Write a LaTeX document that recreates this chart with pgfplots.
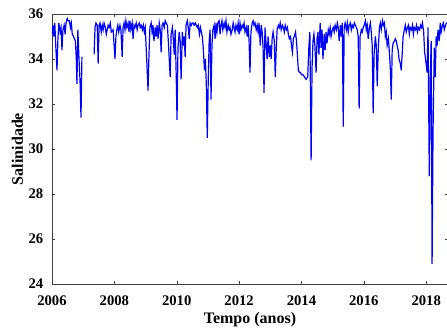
\documentclass[border=0pt]{standalone}
\usepackage{fontspec}
\setmainfont{Liberation Serif}
\usepackage{pgfplots}
\pgfplotsset{compat=1.18}
\begin{document}
\begin{tikzpicture}
\begin{axis}[name=ax,
  scale only axis, width=297pt, height=202.5pt,
  xmin=2006, xmax=2018.7, ymin=24, ymax=36,
  xtick={2006,2008,...,2018}, ytick={24,26,...,36},
  tick align=inside, major tick length=2.5pt,
  /pgf/number format/assume math mode=true,
  /pgf/number format/1000 sep={},
  tick label style={font=\bfseries\fontsize{11}{13}\selectfont},
  xticklabel style={yshift=-5pt},
  yticklabel style={xshift=-3pt},
  axis line style={black!75}, tick style={black!75},
  xlabel={Tempo (anos)}, ylabel={Salinidade},
  every axis x label/.style={at={(axis description cs:0.5,-0.133)}, anchor=center, font=\bfseries\fontsize{12}{14}\selectfont},
  every axis y label/.style={at={(axis description cs:-0.0875,0.5)}, anchor=center, rotate=90, font=\bfseries\fontsize{12}{14}\selectfont},
]
\addplot[blue, line width=0.9pt] coordinates {
(2006.00,35.1) (2006.03,35.5) (2006.06,35.0) (2006.09,35.6) (2006.12,34.6) (2006.16,33.5)
(2006.19,34.9) (2006.22,35.6) (2006.26,35.2) (2006.29,35.4) (2006.32,34.4) (2006.35,35.3)
(2006.39,35.5) (2006.42,35.1) (2006.45,35.6) (2006.49,35.8) (2006.52,35.7) (2006.56,35.7)
(2006.59,35.4) (2006.62,35.6) (2006.65,35.1) (2006.69,35.0) (2006.72,34.9) (2006.75,34.8)
(2006.78,34.0) (2006.80,32.9) (2006.83,35.3) (2006.86,34.2) (2006.90,33.0) (2006.93,31.4)
(2006.96,34.1)
};
\addplot[blue, line width=0.9pt] coordinates {
(2007.35,34.2) (2007.38,35.4) (2007.41,35.6) (2007.45,35.5) (2007.48,33.8) (2007.51,35.5)
(2007.54,35.6) (2007.58,35.2) (2007.61,35.5) (2007.64,35.3) (2007.67,35.6) (2007.71,35.4)
(2007.74,35.1) (2007.77,35.3) (2007.80,35.5) (2007.83,35.4) (2007.87,35.6) (2007.90,35.2)
(2007.96,35.3) (2008.02,34.0) (2008.05,35.0) (2008.08,35.3) (2008.11,35.5) (2008.14,35.2)
(2008.18,35.5) (2008.21,35.3) (2008.25,34.1) (2008.28,35.4) (2008.31,35.6) (2008.34,35.3)
(2008.37,35.7) (2008.40,35.4) (2008.44,35.6) (2008.47,35.2) (2008.50,35.7) (2008.53,35.3)
(2008.57,35.6) (2008.60,34.9) (2008.63,35.5) (2008.66,35.4) (2008.70,35.6) (2008.73,35.3)
(2008.76,35.5) (2008.80,35.6) (2008.83,35.4) (2008.86,35.5) (2008.90,35.3) (2008.93,35.5)
(2008.96,35.2) (2008.99,35.4) (2009.02,34.5) (2009.05,33.6) (2009.08,32.6) (2009.11,34.2)
(2009.14,35.4) (2009.18,35.6) (2009.21,35.2) (2009.24,35.5) (2009.27,34.8) (2009.31,35.4)
(2009.34,35.0) (2009.37,35.5) (2009.40,34.9) (2009.44,35.6) (2009.47,35.3) (2009.50,34.3)
(2009.53,35.5) (2009.56,35.6) (2009.60,35.4) (2009.63,35.7) (2009.66,35.6) (2009.70,35.5)
(2009.73,34.8) (2009.76,34.0) (2009.79,33.2) (2009.82,35.1) (2009.86,35.4) (2009.89,34.9)
(2009.92,34.2) (2009.95,35.3) (2009.98,33.5) (2010.01,31.3) (2010.04,34.5) (2010.08,35.2)
(2010.11,34.8) (2010.14,33.1) (2010.18,35.2) (2010.21,34.6) (2010.24,35.0) (2010.27,34.1)
(2010.30,35.5) (2010.34,35.7) (2010.37,35.4) (2010.40,34.9) (2010.43,35.6) (2010.47,35.5)
(2010.50,35.6) (2010.53,35.6) (2010.56,35.5) (2010.60,35.6) (2010.63,35.5) (2010.66,35.4)
(2010.69,35.5) (2010.73,35.1) (2010.76,35.4) (2010.79,35.2) (2010.82,35.0) (2010.85,34.5)
(2010.89,33.5) (2010.92,34.0) (2010.95,32.8) (2010.98,30.5) (2011.01,33.0) (2011.04,34.8)
(2011.07,35.3) (2011.10,32.2) (2011.13,34.6) (2011.16,35.3) (2011.20,35.5) (2011.23,34.9)
(2011.26,35.6) (2011.29,35.2) (2011.32,35.6) (2011.36,35.7) (2011.39,35.1) (2011.42,35.5)
(2011.45,35.7) (2011.48,35.3) (2011.52,35.6) (2011.55,35.4) (2011.58,35.7) (2011.61,35.2)
(2011.65,35.5) (2011.68,35.3) (2011.71,35.4) (2011.74,35.1) (2011.78,35.3) (2011.81,35.6)
(2011.84,35.4) (2011.87,35.2) (2011.90,35.5) (2011.94,35.3) (2011.97,35.6) (2012.00,35.1)
(2012.03,35.6) (2012.06,35.3) (2012.10,35.5) (2012.13,35.4) (2012.16,35.6) (2012.19,35.2)
(2012.23,35.4) (2012.26,35.0) (2012.29,35.5) (2012.32,34.8) (2012.35,33.4) (2012.38,35.2)
(2012.42,35.6) (2012.45,35.7) (2012.48,35.5) (2012.51,35.6) (2012.55,35.3) (2012.58,35.5)
(2012.61,35.2) (2012.64,35.6) (2012.68,34.6) (2012.71,35.5) (2012.74,35.2) (2012.77,34.5)
(2012.80,32.5) (2012.83,35.4) (2012.87,34.6) (2012.90,34.0) (2012.93,35.0) (2012.97,34.1)
(2013.00,34.6) (2013.03,34.0) (2013.06,34.9) (2013.09,35.2) (2013.13,34.8) (2013.16,33.2)
(2013.19,34.4) (2013.22,35.3) (2013.26,35.5) (2013.29,35.4) (2013.32,35.6) (2013.35,35.3)
(2013.39,35.5) (2013.42,35.4) (2013.45,35.2) (2013.48,35.5) (2013.52,35.3) (2013.55,35.4)
(2013.58,35.1) (2013.61,34.9) (2013.65,35.0) (2013.68,34.6) (2013.71,34.3) (2013.74,34.9)
(2013.77,35.0) (2013.81,35.2) (2013.84,34.8) (2013.87,34.2) (2013.90,33.5) (2013.94,33.4)
(2013.97,33.4) (2014.00,33.3) (2014.05,33.3) (2014.10,33.2) (2014.15,33.1) (2014.20,33.2)
(2014.24,34.6) (2014.27,35.2) (2014.31,29.5) (2014.34,33.6) (2014.37,34.8) (2014.40,35.1)
(2014.43,34.6) (2014.47,33.4) (2014.50,34.9) (2014.53,35.2) (2014.56,34.2) (2014.60,35.6)
(2014.63,34.5) (2014.66,35.3) (2014.69,34.0) (2014.73,35.1) (2014.76,34.4) (2014.79,35.2)
(2014.82,34.7) (2014.86,35.3) (2014.89,35.1) (2014.92,35.4) (2014.95,35.0) (2014.99,35.3)
(2015.02,35.4) (2015.05,35.2) (2015.08,35.5) (2015.12,35.3) (2015.15,35.6) (2015.18,35.4)
(2015.21,34.8) (2015.25,35.5) (2015.28,35.0) (2015.31,35.6) (2015.34,31.0) (2015.37,35.4)
(2015.40,35.6) (2015.44,35.3) (2015.47,35.6) (2015.50,35.2) (2015.53,35.5) (2015.57,35.6)
(2015.60,35.3) (2015.63,35.5) (2015.66,35.4) (2015.70,35.6) (2015.73,35.5) (2015.76,35.4)
(2015.79,35.3) (2015.82,35.0) (2015.85,31.8) (2015.88,35.0) (2015.92,35.3) (2015.95,35.2)
(2015.98,35.4) (2016.01,35.5) (2016.05,35.7) (2016.08,35.3) (2016.11,35.5) (2016.14,34.9)
(2016.18,35.4) (2016.21,35.6) (2016.24,35.2) (2016.27,34.6) (2016.30,31.6) (2016.33,34.2)
(2016.37,35.0) (2016.40,34.6) (2016.43,32.8) (2016.46,34.3) (2016.50,35.4) (2016.53,35.6)
(2016.56,35.3) (2016.60,35.7) (2016.63,35.5) (2016.66,35.6) (2016.69,35.0) (2016.72,35.2)
(2016.75,34.6) (2016.79,34.9) (2016.82,34.3) (2016.85,33.6) (2016.88,32.2) (2016.91,34.4)
(2016.94,34.7) (2016.98,34.8) (2017.01,34.9) (2017.04,34.8) (2017.07,34.6) (2017.10,34.4)
(2017.13,34.0) (2017.17,33.8) (2017.20,33.5) (2017.23,34.2) (2017.26,35.0) (2017.30,35.3)
(2017.33,35.5) (2017.36,35.2) (2017.40,35.4) (2017.43,35.5) (2017.46,35.1) (2017.49,35.4)
(2017.53,35.3) (2017.56,35.5) (2017.59,35.1) (2017.62,35.4) (2017.66,35.3) (2017.69,35.5)
(2017.72,35.2) (2017.75,35.4) (2017.79,35.3) (2017.82,35.5) (2017.85,35.4) (2017.88,35.6)
(2017.92,35.2) (2017.95,34.3) (2017.98,34.0) (2018.03,33.4) (2018.06,35.4) (2018.10,28.8)
(2018.13,33.0) (2018.16,34.8) (2018.19,24.9) (2018.22,30.8) (2018.26,34.5) (2018.29,33.2)
(2018.32,35.0) (2018.35,34.6) (2018.38,35.3) (2018.42,34.8) (2018.45,35.6) (2018.48,35.2)
(2018.52,35.5) (2018.55,35.6) (2018.58,35.3) (2018.62,35.5) (2018.65,35.6) (2018.68,35.6)
};
\end{axis}
\pgfresetboundingbox
\useasboundingbox ([xshift=-39pt,yshift=-34.5pt]ax.south west) rectangle ([xshift=-0.75pt,yshift=10.5pt]ax.north east);
\end{tikzpicture}
\end{document}
